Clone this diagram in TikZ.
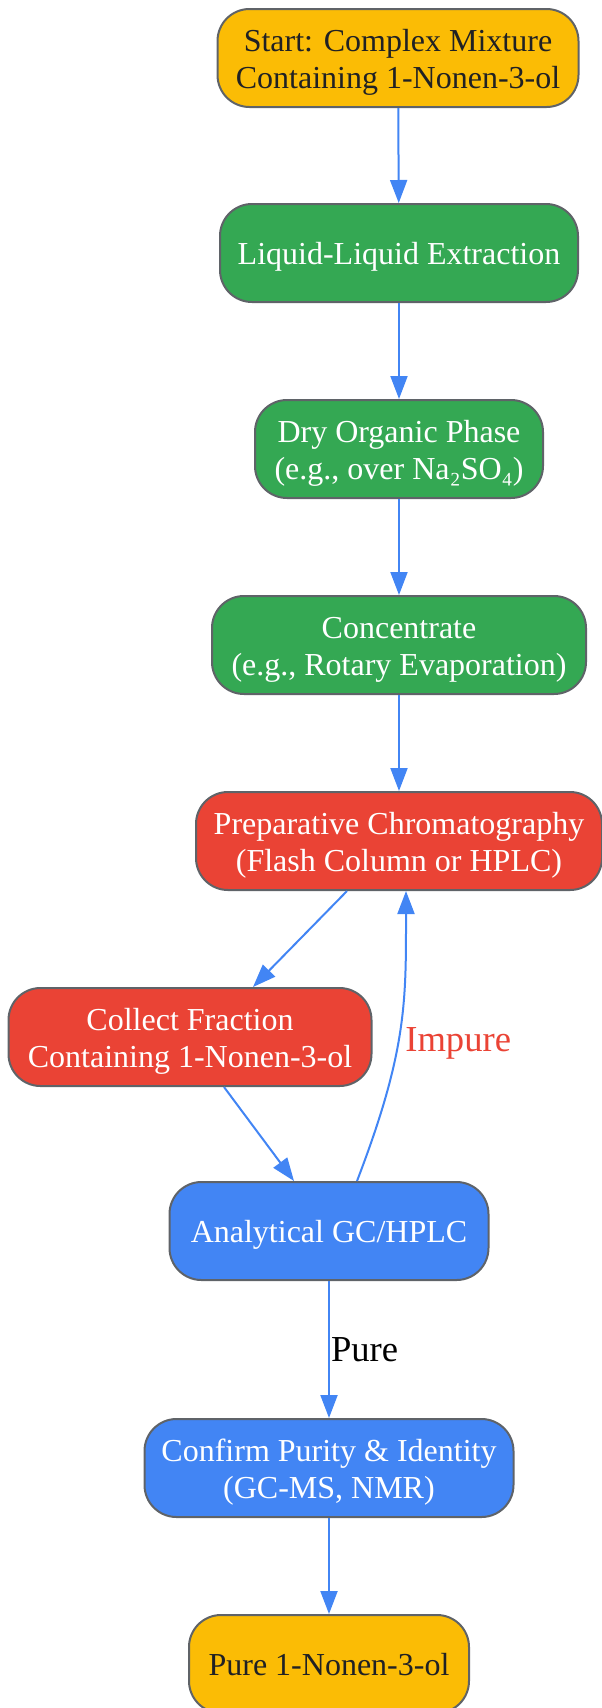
\documentclass[tikz,border=0pt]{standalone}
\usepackage{fontspec}
\setmainfont{Liberation Serif}
\usetikzlibrary{arrows.meta}
\definecolor{gyellow}{HTML}{FBBC05}
\definecolor{ggreen}{HTML}{34A853}
\definecolor{gred}{HTML}{EA4335}
\definecolor{gblue}{HTML}{4285F4}
\definecolor{gedge}{HTML}{5F6368}
\definecolor{gtext}{HTML}{202124}
\begin{document}
\begin{tikzpicture} [
        stepbox/.style = {rectangle, rounded corners=16pt, draw=gedge, line width=1pt,
                          align=center, inner sep=0pt, minimum height=49pt,
                          font=\fontsize{16}{18.4}\selectfont,
                          execute at begin node={\rule{0pt}{15.3pt}},
                          execute at end node={\rule[-3.5pt]{0pt}{3.5pt}}},
        twolines/.style = {execute at begin node={\rule{0pt}{33.7pt}}},
        yellowbox/.style = {stepbox, fill=gyellow, text=gtext},
        greenbox/.style  = {stepbox, fill=ggreen, text=white},
        redbox/.style    = {stepbox, fill=gred, text=white},
        bluebox/.style   = {stepbox, fill=gblue, text=white},
        flow/.style = {draw=gblue, line width=1pt, -{Triangle[length=11.5pt,width=8.5pt]}},
        edgelabel/.style = {font=\fontsize{18.3}{21}\selectfont, inner xsep=1pt}
    ]
\useasboundingbox (0pt,0pt) rectangle (300.5pt,-854pt);
%preparation
        \node[yellowbox,twolines,minimum width=180.5pt] (start) at (199pt,-29pt) {Start: Complex Mixture\\Containing 1-Nonen-3-ol};
        \node[greenbox,minimum width=179pt] (extract) at (199.5pt,-126.5pt) {Liquid-Liquid Extraction};
        \node[greenbox,twolines,minimum width=144pt] (dry) at (199.5pt,-224.5pt) {Dry Organic Phase\\(e.g., over Na₂SO₄)};
        \node[greenbox,twolines,minimum width=187pt] (conc) at (199.5pt,-322.5pt) {Concentrate\\(e.g., Rotary Evaporation)};
%separation
        \node[redbox,twolines,minimum width=203pt] (prep) at (199.5pt,-420.5pt) {Preparative Chromatography\\(Flash Column or HPLC)};
        \node[redbox,twolines,minimum width=181.5pt] (collect) at (95pt,-518.5pt) {Collect Fraction\\Containing 1-Nonen-3-ol};
%analysis
        \node[bluebox,minimum width=159.5pt] (anal) at (164.5pt,-615.5pt) {Analytical GC/HPLC};
        \node[bluebox,twolines,minimum width=184.5pt] (confirm) at (164.5pt,-734pt) {Confirm Purity \& Identity\\(GC-MS, NMR)};
        \node[yellowbox,minimum width=140pt] (pure) at (164.5pt,-832pt) {Pure 1-Nonen-3-ol};
%arrows
        \draw [flow] (start) -- (extract);
        \draw [flow] (extract) -- (dry);
        \draw [flow] (dry) -- (conc);
        \draw [flow] (conc) -- (prep);
        \draw [flow] ([xshift=-26pt]prep.south) -- ([xshift=31.5pt]collect.north);
        \draw [flow] ([xshift=17pt]collect.south) -- ([xshift=-17.5pt]anal.north);
        \draw [flow] ([xshift=14pt]anal.north) to[out=69,in=-90,out distance=70pt,in distance=55pt]
              node[edgelabel, pos=0.45, anchor=west, inner xsep=3pt, yshift=-1pt, text=gred] {Impure} ([xshift=3.5pt]prep.south);
        \draw [flow] (anal) -- node[edgelabel, pos=0.5, anchor=west, inner xsep=0.5pt] {Pure} (confirm);
        \draw [flow] (confirm) -- (pure);
    \end{tikzpicture}
\end{document}
